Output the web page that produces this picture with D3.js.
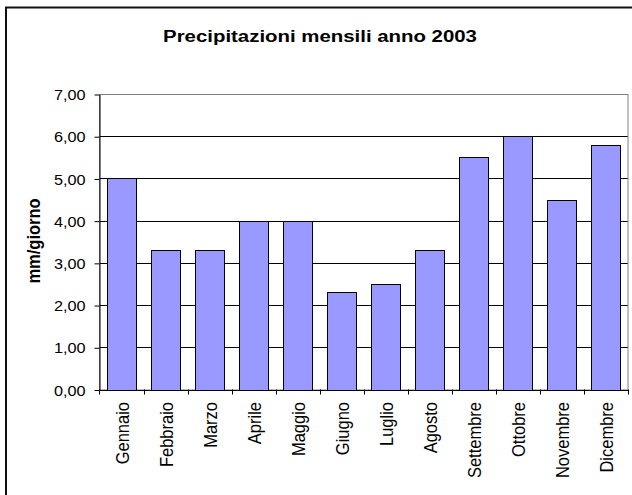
<!DOCTYPE html>
<html lang='it'>
<head>
<meta charset='utf-8'>
<script src='https://cdnjs.cloudflare.com/ajax/libs/d3/7.8.5/d3.min.js'></script>
<title>Precipitazioni mensili anno 2003</title>
<style>
body {
   margin:0;
   background:white;
   overflow:hidden;
}
text {
   font-family:'Liberation Sans', Arial, sans-serif;
   fill:black;
}
</style>
</head>
<body>
<script>
var mesi = ['Gennaio', 'Febbraio', 'Marzo', 'Aprile', 'Maggio', 'Giugno',
            'Luglio', 'Agosto', 'Settembre', 'Ottobre', 'Novembre', 'Dicembre'];
var pioggia = [5.0, 3.3, 3.3, 4.0, 4.0, 2.3, 2.5, 3.3, 5.5, 6.0, 4.5, 5.8];
var yTicks = [0, 1, 2, 3, 4, 5, 6, 7];

var W = 632, H = 495;
var plot = {left: 99.5, right: 628, top: 94, bottom: 389.5};

var itLocale = d3.formatLocale({decimal: ',', thousands: '.', grouping: [3], currency: ['', ' €']});
var fmt = itLocale.format('.2f');

var svg = d3.select('body').append('svg')
            .attr('width', W).attr('height', H);

// cornice esterna (esce dal bordo destro e basso)
svg.append('rect')
   .attr('x', 6).attr('y', 7.5).attr('width', 700).attr('height', 600)
   .style('fill', 'none').style('stroke', '#111').style('stroke-width', 2);

var x = d3.scaleBand().domain(mesi).range([plot.left, plot.right])
          .paddingInner(0.34).paddingOuter(0.17);
var y = d3.scaleLinear().domain([0, 7]).range([plot.bottom, plot.top]);

// griglia
svg.append('g').selectAll('line')
   .data(yTicks.filter(function(d){return d > 0 && d < 7;}))
   .enter().append('line')
   .attr('x1', plot.left).attr('x2', plot.right)
   .attr('y1', function(d){return Math.round(y(d)) + 0.5;})
   .attr('y2', function(d){return Math.round(y(d)) + 0.5;})
   .style('stroke', '#000').style('stroke-width', 1);

// bordo area grafico
svg.append('rect')
   .attr('x', plot.left).attr('y', plot.top + 0.5)
   .attr('width', plot.right - plot.left).attr('height', plot.bottom - plot.top)
   .style('fill', 'none').style('stroke', '#808080').style('stroke-width', 1);

// barre
svg.append('g').selectAll('rect')
   .data(pioggia)
   .enter().append('rect')
   .attr('x', function(d, i){return Math.round(x(mesi[i])) + 0.5;})
   .attr('y', function(d){return Math.round(y(d)) + 0.5;})
   .attr('width', Math.round(x.bandwidth()))
   .attr('height', function(d){return Math.round(y(0)) - Math.round(y(d));})
   .style('fill', '#9999FF').style('stroke', '#000').style('stroke-width', 1);

// asse y
var yAxis = svg.append('g')
   .attr('transform', 'translate(' + plot.left + ',0.5)')
   .call(d3.axisLeft(y).tickValues(yTicks).tickSize(5).tickSizeOuter(0).tickFormat(fmt));
yAxis.select('.domain').style('stroke', '#000');
yAxis.selectAll('.tick line').style('stroke', '#000');
yAxis.selectAll('.tick text')
   .attr('x', null).attr('dy', null)
   .attr('transform', 'translate(-14,0) scale(1.12,1)')
   .attr('dominant-baseline', 'central')
   .style('font-size', '14.5px').style('font-family', "'Liberation Sans', Arial, sans-serif");

// asse x
var xEdges = mesi.map(function(m){return x(m) - x.step() * x.paddingInner() / 2;});
xEdges.push(plot.right);
svg.append('line')
   .attr('x1', plot.left).attr('x2', plot.right)
   .attr('y1', Math.round(plot.bottom) + 0.5).attr('y2', Math.round(plot.bottom) + 0.5)
   .style('stroke', '#000');
svg.append('g').selectAll('line')
   .data(xEdges)
   .enter().append('line')
   .attr('x1', function(d){return Math.round(d) + 0.5;})
   .attr('x2', function(d){return Math.round(d) + 0.5;})
   .attr('y1', plot.bottom).attr('y2', plot.bottom + 5)
   .style('stroke', '#000');

svg.append('g').selectAll('text')
   .data(mesi)
   .enter().append('text')
   .attr('transform', function(d){
      return 'translate(' + (x(d) + x.bandwidth() / 2 + 7) + ',402) rotate(-90) scale(1,1.15)';
   })
   .attr('text-anchor', 'end')
   .style('font-size', '16.5px')
   .text(function(d){return d;});

// titoli
svg.append('text')
   .attr('transform', 'translate(320,41.5) scale(1.2,1)')
   .attr('text-anchor', 'middle')
   .style('font-size', '17px').style('font-weight', 'bold')
   .text('Precipitazioni mensili anno 2003');

svg.append('text')
   .attr('transform', 'translate(40,241) rotate(-90) scale(1,1.15)')
   .attr('text-anchor', 'middle')
   .style('font-size', '16.5px').style('font-weight', 'bold')
   .text('mm/giorno');
</script>
</body>
</html>
